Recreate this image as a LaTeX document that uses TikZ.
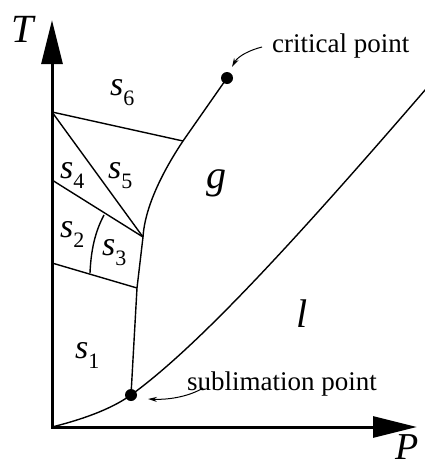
\documentclass[tikz,border=0pt]{standalone}
\usepackage{fontspec}
\setmainfont{Liberation Serif}
\usetikzlibrary{arrows.meta}
\newcommand{\phs}[1]{\textit{s}\raisebox{-10pt}{\fontsize{22}{22}\selectfont #1}}

\begin{document}
\begin{tikzpicture}[x=1pt, y=-1pt, line join=round]
  \tikzset{
    axis/.style={line width=3pt, line cap=rect, -{Triangle[length=44pt, width=21pt]}},
    bound/.style={line width=1.4pt},
    dotmark/.style={circle, fill=black, inner sep=0pt, minimum size=12pt},
    phase/.style={anchor=base west, inner sep=0pt, font=\fontsize{34}{34}\selectfont},
    bigvar/.style={anchor=base, inner sep=0pt, font=\fontsize{40}{40}\selectfont\itshape},
    note/.style={anchor=base west, inner sep=0pt, font=\fontsize{27}{27}\selectfont},
    callout/.style={line width=1pt, -{Stealth[length=9pt, width=5pt]}},
  }
  \useasboundingbox (0,0) rectangle (425,466);

  % axes
  \coordinate (O) at (52,427);
  \coordinate (Ttip) at (52,20);
  \coordinate (Ptip) at (417,427);
  \draw[axis] (O) -- (Ttip);
  \draw[axis] (O) -- (Ptip);
  \node[bigvar] (tlab) at (23,42) {T};
  \node[bigvar, anchor=base east, font=\fontsize{38}{38}\selectfont\itshape] (plab) at (419,459) {P};

  % junctions of the phase boundaries
  \coordinate (cp) at (227,78);
  \coordinate (sp) at (131,395);
  \coordinate (top) at (52,112);
  \coordinate (mid) at (52,180);
  \coordinate (low) at (52,263);
  \coordinate (knee) at (143,237);
  \coordinate (foot) at (137,288);
  \coordinate (bend) at (183,141);
  \coordinate (arcA) at (104,215);
  \coordinate (arcB) at (90,273);
  \coordinate (lgend) at (432,82);

  % boundaries
  \draw[bound] (O) .. controls (80,420) and (110,410) .. (sp);
  \draw[bound] (sp) .. controls (200,345) and (300,235) .. (lgend);
  \draw[bound] (sp) -- (foot) -- (knee) .. controls (145,205) and (165,168) .. (bend) -- (cp);
  \draw[bound] (top) -- (bend);
  \draw[bound] (top) -- (knee);
  \draw[bound] (mid) -- (knee);
  \draw[bound] (low) -- (foot);
  \draw[bound] (arcA) .. controls (95,232) and (91,250) .. (arcB);

  \node[dotmark] (cpdot) at (cp) {};
  \node[dotmark] (spdot) at (sp) {};

  % phase labels
  \node[phase] (s6) at (110,95) {\phs{6}};
  \node[phase] (s5) at (108,178) {\phs{5}};
  \node[phase] (s4) at (60,178) {\phs{4}};
  \node[phase] (s2) at (60,237) {\phs{2}};
  \node[phase] (s3) at (102,255) {\phs{3}};
  \node[phase] (s1) at (75,358) {\phs{1}};
  \node[bigvar] (gas) at (216,188) {g};
  \node[bigvar] (liq) at (302,327) {l};

  % callouts
  \node[note] (cptxt) at (272,52) {critical point};
  \node[note] (sptxt) at (187,390) {sublimation point};
  \coordinate (cptail) at (262,47);
  \coordinate (cphead) at (232,67);
  \coordinate (sptail) at (203,388);
  \coordinate (sphead) at (148,399);
  \draw[callout] (cptail) .. controls (250,50) and (238,56) .. (cphead);
  \draw[callout] (sptail) .. controls (190,396) and (170,400) .. (sphead);
\end{tikzpicture}
\end{document}
